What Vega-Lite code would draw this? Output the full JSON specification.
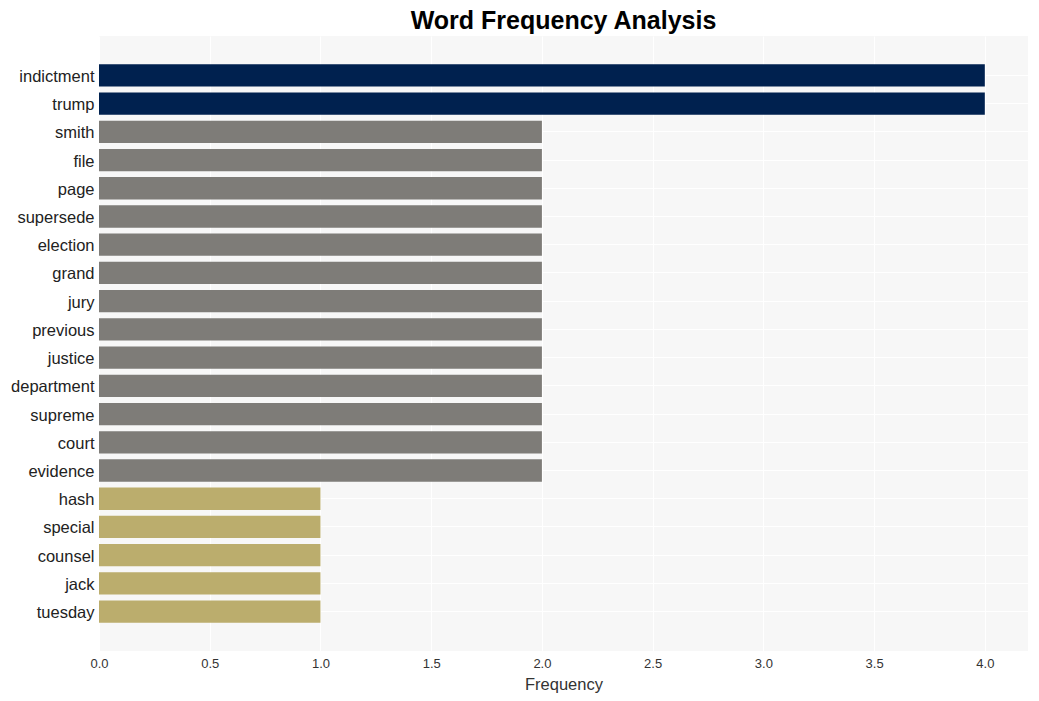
{
  "$schema": "https://vega.github.io/schema/vega-lite/v6.json",
  "width": 929,
  "height": 615,
  "autosize": {"type": "none"},
  "padding": {"left": 99, "top": 36, "right": 11, "bottom": 50},
  "background": "white",
  "title": {
    "text": "Word Frequency Analysis",
    "font": "Liberation Sans",
    "fontSize": 25,
    "fontWeight": "bold",
    "color": "#000000",
    "anchor": "middle",
    "offset": 2
  },
  "config": {
    "view": {"fill": "#f7f7f7", "stroke": null},
    "axis": {
      "domain": false,
      "ticks": false,
      "gridColor": "#ffffff",
      "gridWidth": 1,
      "labelFont": "Liberation Sans",
      "titleFont": "Liberation Sans",
      "labelColor": "#333333",
      "titleColor": "#333333"
    }
  },
  "data": {
    "values": [
      {"word": "indictment", "freq": 4, "grp": "top"},
      {"word": "trump", "freq": 4, "grp": "top"},
      {"word": "smith", "freq": 2, "grp": "mid"},
      {"word": "file", "freq": 2, "grp": "mid"},
      {"word": "page", "freq": 2, "grp": "mid"},
      {"word": "supersede", "freq": 2, "grp": "mid"},
      {"word": "election", "freq": 2, "grp": "mid"},
      {"word": "grand", "freq": 2, "grp": "mid"},
      {"word": "jury", "freq": 2, "grp": "mid"},
      {"word": "previous", "freq": 2, "grp": "mid"},
      {"word": "justice", "freq": 2, "grp": "mid"},
      {"word": "department", "freq": 2, "grp": "mid"},
      {"word": "supreme", "freq": 2, "grp": "mid"},
      {"word": "court", "freq": 2, "grp": "mid"},
      {"word": "evidence", "freq": 2, "grp": "mid"},
      {"word": "hash", "freq": 1, "grp": "low"},
      {"word": "special", "freq": 1, "grp": "low"},
      {"word": "counsel", "freq": 1, "grp": "low"},
      {"word": "jack", "freq": 1, "grp": "low"},
      {"word": "tuesday", "freq": 1, "grp": "low"}
    ]
  },
  "mark": {"type": "bar"},
  "encoding": {
    "y": {
      "field": "word",
      "type": "nominal",
      "sort": null,
      "scale": {"paddingInner": 0.21, "paddingOuter": 1.0},
      "axis": {
        "title": null,
        "labelFontSize": 16.5,
        "labelPadding": 5,
        "labelOffset": 1.5,
        "grid": true,
        "labelColor": "#222222"
      }
    },
    "x": {
      "field": "freq",
      "type": "quantitative",
      "scale": {"domain": [0, 4.195], "nice": false},
      "axis": {
        "title": "Frequency",
        "titleFontSize": 16.5,
        "titleFontWeight": "normal",
        "titlePadding": 6,
        "labelFontSize": 13,
        "labelPadding": 6,
        "labelFlush": false,
        "values": [0, 0.5, 1, 1.5, 2, 2.5, 3, 3.5, 4],
        "format": ".1f",
        "grid": true
      }
    },
    "color": {
      "field": "grp",
      "type": "nominal",
      "scale": {"domain": ["top", "mid", "low"], "range": ["#00214f", "#7e7c78", "#bbad6d"]},
      "legend": null
    }
  }
}
